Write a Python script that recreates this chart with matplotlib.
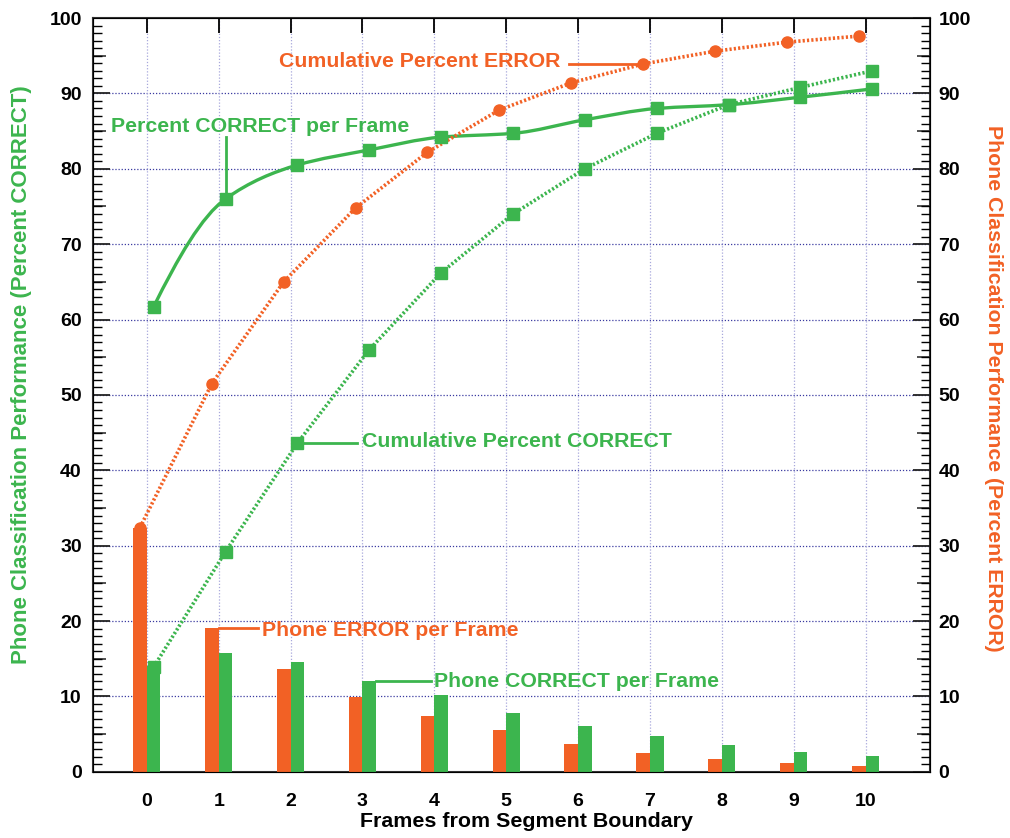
import matplotlib.pyplot as plt
import numpy as np
from matplotlib.path import Path
from matplotlib.patches import PathPatch
from matplotlib.ticker import MultipleLocator, NullFormatter

frames = np.arange(11)
pct_correct_frame = [61.7, 76.0, 80.5, 82.5, 84.2, 84.7, 86.5, 88.0, 88.5, 89.5, 90.6]
cum_pct_correct = [13.9, 29.2, 43.6, 56.0, 66.2, 74.0, 80.0, 84.7, 88.5, 90.8, 93.0]
cum_pct_error = [32.4, 51.5, 65.0, 74.8, 82.2, 87.8, 91.4, 93.9, 95.6, 96.8, 97.6]
phone_error_frame = [32.3, 19.1, 13.6, 9.9, 7.4, 5.5, 3.7, 2.5, 1.7, 1.2, 0.8]
phone_correct_frame = [14.0, 15.7, 14.6, 12.1, 10.2, 7.8, 6.1, 4.7, 3.6, 2.65, 2.1]

green = '#3cb54e'
orange = '#f26125'

plt.rcParams['font.family'] = ['Liberation Sans', 'DejaVu Sans']

fig = plt.figure(figsize=(10.1, 8.38), dpi=100)
ax = fig.add_axes([0.092, 0.079, 0.829, 0.8995])

bw = 0.19
off = bw / 2
xe = frames - off
xc = frames + off

ax.bar(frames, phone_error_frame, width=-bw, align='edge', color=orange, zorder=3)
ax.bar(frames, phone_correct_frame, width=bw, align='edge', color=green, zorder=3)


def monotone_path(x, y):
    # Fritsch-Carlson monotone cubic through the points, as bezier segments
    x = np.asarray(x, float)
    y = np.asarray(y, float)
    h = np.diff(x)
    s = np.diff(y) / h
    d = np.zeros_like(y)
    for i in range(1, len(y) - 1):
        if s[i - 1] * s[i] > 0:
            d[i] = 2 / (1 / s[i - 1] + 1 / s[i])
    d[0] = ((2 * h[0] + h[1]) * s[0] - h[0] * s[1]) / (h[0] + h[1])
    d[-1] = ((2 * h[-1] + h[-2]) * s[-1] - h[-1] * s[-2]) / (h[-1] + h[-2])
    verts = [(x[0], y[0])]
    codes = [Path.MOVETO]
    for i in range(len(x) - 1):
        verts += [(x[i] + h[i] / 3, y[i] + d[i] * h[i] / 3),
                  (x[i + 1] - h[i] / 3, y[i + 1] - d[i + 1] * h[i] / 3),
                  (x[i + 1], y[i + 1])]
        codes += [Path.CURVE4] * 3
    return Path(verts, codes)


ax.add_patch(PathPatch(monotone_path(xc, pct_correct_frame), fill=False,
                       edgecolor=green, lw=2.4, zorder=4))
ax.plot(xc, pct_correct_frame, ls='none', marker='s', ms=8.5, color=green, zorder=5)
ax.plot(xc, cum_pct_correct, ls=(0, (0.6, 0.6)), lw=2.6, marker='s', ms=8.5,
        color=green, zorder=4)
ax.plot(xe, cum_pct_error, ls=(0, (0.6, 0.6)), lw=2.6, marker='o', ms=8,
        color=orange, zorder=4)

tfont = dict(fontsize=15.3, fontweight='bold')

# callouts
ax.plot([5.87, xe[7]], [cum_pct_error[7], cum_pct_error[7]], color=orange, lw=2, zorder=4)
ax.text(5.76, cum_pct_error[7] + 0.3, 'Cumulative Percent ERROR', color=orange,
        ha='right', va='center', **tfont)

ax.plot([xc[1], xc[1]], [pct_correct_frame[1], 84.2], color=green, lw=2, zorder=4)
ax.text(-0.5, 85.6, 'Percent CORRECT per Frame', color=green, ha='left',
        va='center', **tfont)

ax.plot([xc[2], 2.93], [cum_pct_correct[2], cum_pct_correct[2]], color=green, lw=2, zorder=4)
ax.text(3.0, 43.8, 'Cumulative Percent CORRECT', color=green, ha='left',
        va='center', **tfont)

ax.plot([1.0, 1.55], [phone_error_frame[1], phone_error_frame[1]], color=orange, lw=2, zorder=4)
ax.text(1.6, 18.8, 'Phone ERROR per Frame', color=orange, ha='left',
        va='center', **tfont)

ax.plot([3.19, 3.96], [phone_correct_frame[3], phone_correct_frame[3]], color=green, lw=2, zorder=4)
ax.text(4.0, 12.0, 'Phone CORRECT per Frame', color=green, ha='left',
        va='center', **tfont)

ax.set_xlim(-0.75, 10.9)
ax.set_ylim(0, 100)
ax.set_xticks(frames)
ax.yaxis.set_major_locator(MultipleLocator(10))
ax.yaxis.set_minor_locator(MultipleLocator(1))

for y in range(10, 100, 10):
    ax.axhline(y, color='#3a3aa0', lw=0.9, ls=(0, (1, 1.5)), zorder=1)
for x in frames:
    ax.axvline(x, color='#a8a8dc', lw=0.9, ls=(0, (1, 1.5)), zorder=1)

ax.tick_params(axis='y', which='major', direction='in', length=12.5, width=1.3,
               labelsize=14, pad=8, colors='#222222')
ax.tick_params(axis='y', which='minor', direction='in', length=6.5, width=1)
ax.tick_params(axis='x', which='major', direction='in', length=11, width=1.3,
               top=True, bottom=False, labelsize=14, pad=15)
for lab in ax.get_xticklabels() + ax.get_yticklabels():
    lab.set_fontweight('bold')
    lab.set_color('black')
for s in ax.spines.values():
    s.set_linewidth(1.5)
    s.set_color('#333333')

ax.set_xlabel('Frames from Segment Boundary', fontsize=15.4, fontweight='bold',
              va='center')
ax.xaxis.set_label_coords(0.518, -0.066)
ax.set_ylabel('Phone Classification Performance (Percent CORRECT)', color=green,
              fontsize=16, fontweight='bold', va='center')
ax.yaxis.set_label_coords(-0.085, 0.527)

ax2 = ax.twinx()
ax2.set_ylim(0, 100)
ax2.yaxis.set_major_locator(MultipleLocator(10))
ax2.yaxis.set_minor_locator(MultipleLocator(1))
ax2.tick_params(axis='y', which='major', direction='in', length=12.5, width=1.3,
                labelsize=14, pad=6, colors='#222222')
ax2.tick_params(axis='y', which='minor', direction='in', length=6.5, width=1)
for lab in ax2.get_yticklabels():
    lab.set_fontweight('bold')
    lab.set_color('black')
ax2.set_ylabel('Phone Classification Performance (Percent ERROR)', color=orange,
               fontsize=15.3, fontweight='bold', rotation=-90, va='center')
ax2.yaxis.set_label_coords(1.076, 0.509)

# medium ticks at the fives
for side in ('left', 'right'):
    sec = ax.secondary_yaxis(side)
    sec.set_yticks(range(5, 100, 10))
    sec.yaxis.set_major_formatter(NullFormatter())
    sec.tick_params(axis='y', direction='in', length=9.5, width=1.1, colors='#222222')
    sec.spines[side].set_visible(False)

fig.savefig('out.png', dpi=100)
